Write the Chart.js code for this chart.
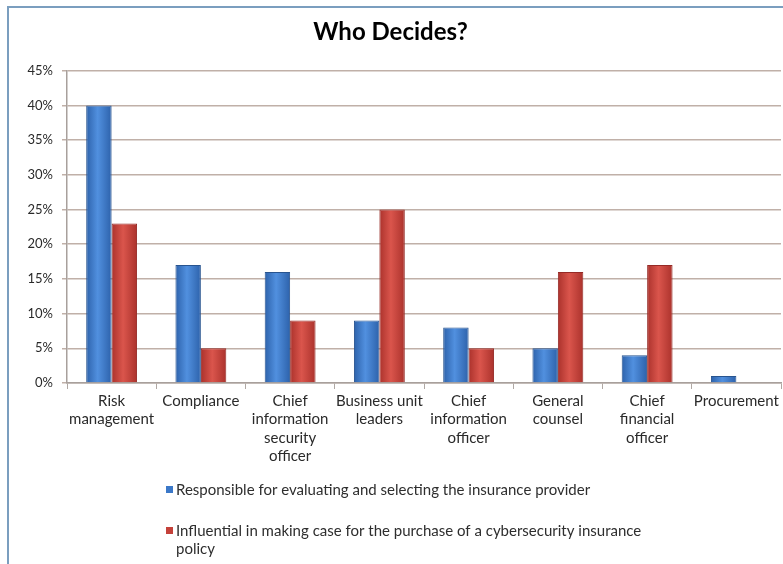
<!DOCTYPE html>
<html>
<head>
<meta charset="utf-8">
<title>Who Decides?</title>
<script src="https://cdn.jsdelivr.net/npm/chart.js@4"></script>
<style>
  html, body { margin: 0; padding: 0; background: #fff; }
  canvas { display: block; }
</style>
</head>
<body>
<canvas id="myChart" width="783" height="564"></canvas>
<script>
// data
const categories = [
  ['Risk', 'management'],
  'Compliance',
  ['Chief', 'information', 'security', 'officer'],
  ['Business unit', 'leaders'],
  ['Chief', 'information', 'officer'],
  ['General', 'counsel'],
  ['Chief', 'financial', 'officer'],
  'Procurement'
];
const responsible = [40, 17, 16, 9, 8, 5, 4, 1];
const influential = [23, 5, 9, 25, 5, 16, 17, 0];
const seriesNames = [
  'Responsible for evaluating and selecting the insurance provider',
  'Influential in making case for the purchase of a cybersecurity insurance policy'
];
const yMax = 45;
const yStep = 5;

const CAT_PCT = 0.57;
const palettes = [
  { edge: '#2d62ab', mid: '#5190df', border: '#28548f', flat: '#3b78c8' },
  { edge: '#ab322c', mid: '#da554c', border: '#962a26', flat: '#c4413a' }
];

// 3d-ish look: each bar gets a horizontal gradient
function barFill(c) {
  const p = palettes[c.datasetIndex];
  const chart = c.chart;
  const xs = chart.scales.x;
  if (!xs || c.dataIndex === undefined) return p.flat;
  const cw = (xs.right - xs.left) / categories.length;
  const bw = cw * CAT_PCT / 2;
  const center = xs.getPixelForValue(c.dataIndex);
  const left = c.datasetIndex === 0 ? center - bw : center;
  if (!isFinite(left) || !isFinite(bw) || bw <= 0) return p.flat;
  const g = chart.ctx.createLinearGradient(left, 0, left + bw, 0);
  g.addColorStop(0, p.edge);
  g.addColorStop(0.45, p.mid);
  g.addColorStop(1, p.edge);
  return g;
}

const framePlugin = {
  id: 'frame',
  beforeDraw(chart) {
    const ctx = chart.ctx;
    ctx.save();
    ctx.fillStyle = '#fff';
    ctx.fillRect(0, 0, chart.width, chart.height);
    ctx.strokeStyle = '#7b9ebf';
    ctx.lineWidth = 2;
    ctx.beginPath();
    ctx.moveTo(chart.width, 7);
    ctx.lineTo(8, 7);
    ctx.lineTo(8, chart.height);
    ctx.stroke();
    ctx.restore();
  }
};

// legend drawn one item per line, wrapped like the original
const legendPlugin = {
  id: 'stackLegend',
  afterDraw(chart) {
    const ctx = chart.ctx;
    ctx.save();
    ctx.font = '15px Lato';
    ctx.textBaseline = 'middle';
    const x0 = 166, maxW = 480;
    let y = 490;
    chart.data.datasets.forEach((ds, i) => {
      const p = palettes[i];
      ctx.fillStyle = p.flat;
      ctx.fillRect(x0, y - 4, 7, 7);
      ctx.fillStyle = '#2e2e2e';
      const words = ds.label.split(' ');
      let line = '';
      const lines = [];
      words.forEach(w => {
        const t = line ? line + ' ' + w : w;
        if (ctx.measureText(t).width > maxW && line) {
          lines.push(line);
          line = w;
        } else {
          line = t;
        }
      });
      lines.push(line);
      lines.forEach((l, k) => ctx.fillText(l, x0 + 10, y + k * 18));
      y += 41;
    });
    ctx.restore();
  }
};

const ctx = document.getElementById('myChart');
const config = {
  type: 'bar',
  data: {
    labels: categories,
    datasets: [{
      label: seriesNames[0],
      data: responsible,
      backgroundColor: barFill,
      borderColor: palettes[0].border,
      borderWidth: 1,
      borderSkipped: 'bottom'
    }, {
      label: seriesNames[1],
      data: influential,
      backgroundColor: barFill,
      borderColor: palettes[1].border,
      borderWidth: 1,
      borderSkipped: 'bottom'
    }]
  },
  options: {
    responsive: false,
    animation: false,
    devicePixelRatio: 1,
    datasets: {
      bar: { categoryPercentage: CAT_PCT, barPercentage: 1 }
    },
    layout: { padding: { left: 0, right: 2, top: 0, bottom: 0 } },
    plugins: {
      legend: { display: false },
      tooltip: { enabled: false },
      title: {
        display: true,
        text: 'Who Decides?',
        color: '#000',
        font: { family: 'Lato', size: 24, weight: 'bold' },
        padding: { top: 18, bottom: 24 }
      }
    },
    scales: {
      x: {
        grid: { drawOnChartArea: false, tickLength: 6, color: '#b0a8a4', offset: true },
        border: { color: '#a8a09c', width: 1.5 },
        ticks: {
          color: '#2a2a2a',
          font: { family: 'Lato', size: 15, lineHeight: 1.22 },
          padding: 3,
          maxRotation: 0,
          autoSkip: false
        },
        afterFit(scale) { scale.height = 181; }
      },
      y: {
        min: 0,
        max: yMax,
        grid: { color: '#c0b0a8', lineWidth: 1.5, tickLength: 5 },
        border: { color: '#a8a09c', width: 1.5 },
        ticks: {
          stepSize: yStep,
          color: '#2a2a2a',
          font: { family: 'Lato', size: 13 },
          padding: 9,
          callback: v => v + '%'
        },
        afterFit(scale) { scale.width = 67; }
      }
    }
  },
  plugins: [framePlugin, legendPlugin]
};
new Chart(ctx, config);
</script>
</body>
</html>
